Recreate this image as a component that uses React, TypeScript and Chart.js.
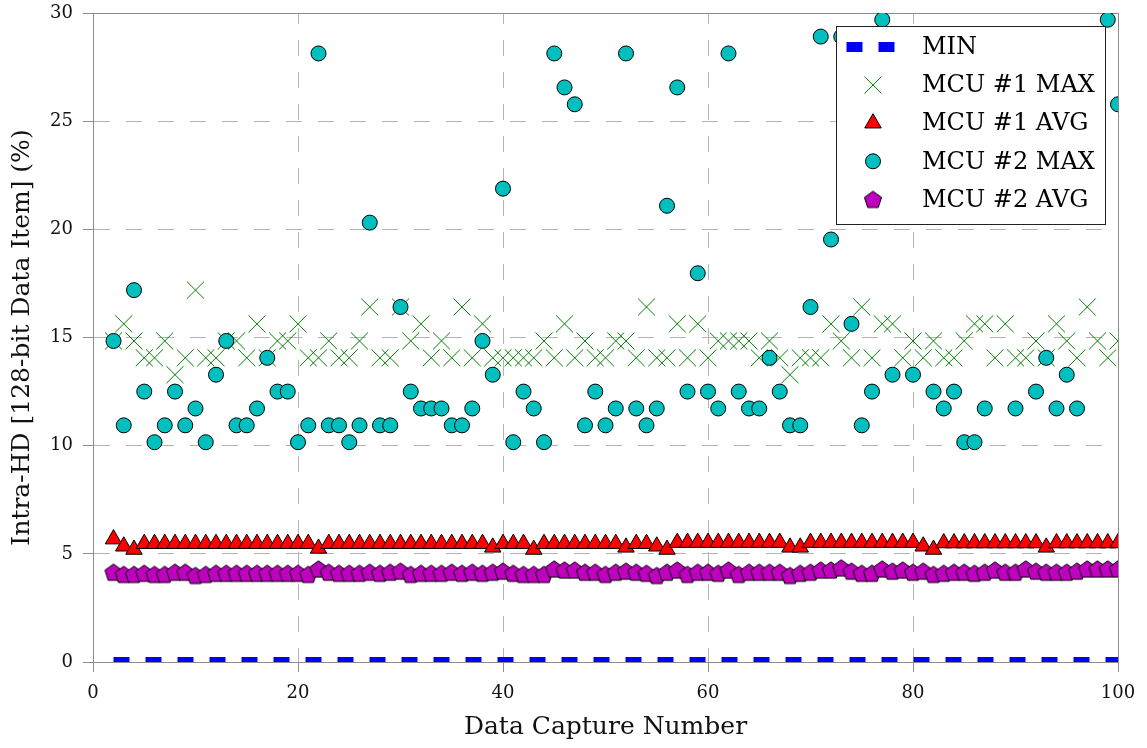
import React, { useEffect, useRef } from 'react';
import { Chart, registerables } from 'chart.js';

Chart.register(...registerables);

// ---------- data ----------
const CAPTURE_NUMBERS = [
  2, 3, 4, 5, 6, 7, 8, 9, 10, 11, 12, 13, 14, 15, 16, 17, 18, 19, 20, 21,
  22, 23, 24, 25, 26, 27, 28, 29, 30, 31, 32, 33, 34, 35, 36, 37, 38, 39, 40, 41,
  42, 43, 44, 45, 46, 47, 48, 49, 50, 51, 52, 53, 54, 55, 56, 57, 58, 59, 60, 61,
  62, 63, 64, 65, 66, 67, 68, 69, 70, 71, 72, 73, 74, 75, 76, 77, 78, 79, 80, 81,
  82, 83, 84, 85, 86, 87, 88, 89, 90, 91, 92, 93, 94, 95, 96, 97, 98, 99, 100,
];

const MIN_X = [2, 100];
const MIN_VALUES = [0, 0];

const MCU1_MAX = [
  14.84, 15.63, 14.84, 14.06, 14.06, 14.84, 13.28, 14.06, 17.19, 14.06,
  14.06, 14.84, 14.84, 14.06, 15.63, 14.06, 14.84, 14.84, 15.63, 14.06,
  14.06, 14.84, 14.06, 14.06, 14.84, 16.41, 14.06, 14.06, 16.41, 14.84,
  15.63, 14.06, 14.84, 14.06, 16.41, 14.06, 15.63, 14.06, 14.06, 14.06,
  14.06, 14.06, 14.84, 14.06, 15.63, 14.06, 14.84, 14.06, 14.06, 14.84,
  14.84, 14.06, 16.41, 14.06, 14.06, 15.63, 14.06, 15.63, 14.06, 14.84,
  14.84, 14.84, 14.84, 14.06, 14.84, 14.06, 13.28, 14.06, 14.06, 14.06,
  15.63, 14.84, 14.06, 16.41, 14.06, 15.63, 15.63, 14.06, 14.84, 14.06,
  14.84, 14.06, 14.06, 14.84, 15.63, 15.63, 14.06, 15.63, 14.06, 14.06,
  14.84, 14.06, 15.63, 14.84, 14.06, 16.41, 14.84, 14.06, 14.84,
];

const MCU1_AVG = [
  5.68, 5.35, 5.2, 5.47, 5.47, 5.47, 5.47, 5.47, 5.47, 5.47,
  5.47, 5.47, 5.47, 5.47, 5.47, 5.47, 5.47, 5.47, 5.47, 5.47,
  5.25, 5.47, 5.47, 5.47, 5.47, 5.47, 5.47, 5.47, 5.47, 5.47,
  5.47, 5.47, 5.47, 5.47, 5.47, 5.47, 5.47, 5.3, 5.47, 5.47,
  5.47, 5.2, 5.47, 5.47, 5.47, 5.47, 5.47, 5.47, 5.47, 5.47,
  5.3, 5.47, 5.47, 5.35, 5.2, 5.52, 5.52, 5.52, 5.52, 5.52,
  5.52, 5.52, 5.52, 5.52, 5.52, 5.52, 5.3, 5.3, 5.52, 5.52,
  5.52, 5.52, 5.52, 5.52, 5.52, 5.52, 5.52, 5.52, 5.52, 5.35,
  5.2, 5.5, 5.5, 5.5, 5.5, 5.5, 5.5, 5.5, 5.5, 5.5,
  5.5, 5.3, 5.5, 5.5, 5.5, 5.5, 5.5, 5.5, 5.5,
];

const MCU2_MAX = [
  14.84, 10.94, 17.19, 12.5, 10.16, 10.94, 12.5, 10.94, 11.72, 10.16,
  13.28, 14.84, 10.94, 10.94, 11.72, 14.06, 12.5, 12.5, 10.16, 10.94,
  28.13, 10.94, 10.94, 10.16, 10.94, 20.31, 10.94, 10.94, 16.41, 12.5,
  11.72, 11.72, 11.72, 10.94, 10.94, 11.72, 14.84, 13.28, 21.88, 10.16,
  12.5, 11.72, 10.16, 28.13, 26.56, 25.78, 10.94, 12.5, 10.94, 11.72,
  28.13, 11.72, 10.94, 11.72, 21.09, 26.56, 12.5, 17.97, 12.5, 11.72,
  28.13, 12.5, 11.72, 11.72, 14.06, 12.5, 10.94, 10.94, 16.41, 28.91,
  19.53, 28.91, 15.63, 10.94, 12.5, 29.69, 13.28, 25.0, 13.28, 22.66,
  12.5, 11.72, 12.5, 10.16, 10.16, 11.72, 27.34, 23.44, 11.72, 21.88,
  12.5, 14.06, 11.72, 13.28, 11.72, 24.22, 26.56, 29.69, 25.78,
];

const MCU2_AVG = [
  4.15, 4.05, 4.05, 4.1, 4.05, 4.05, 4.15, 4.15, 4.0, 4.05,
  4.1, 4.1, 4.1, 4.1, 4.1, 4.1, 4.1, 4.1, 4.1, 4.05,
  4.3, 4.15, 4.1, 4.1, 4.1, 4.15, 4.1, 4.15, 4.2, 4.05,
  4.1, 4.1, 4.1, 4.15, 4.1, 4.15, 4.1, 4.15, 4.2, 4.1,
  4.05, 4.05, 4.05, 4.3, 4.25, 4.25, 4.15, 4.15, 4.05, 4.15,
  4.2, 4.15, 4.1, 4.0, 4.15, 4.25, 4.05, 4.15, 4.15, 4.1,
  4.25, 4.05, 4.15, 4.15, 4.15, 4.15, 4.0, 4.1, 4.15, 4.25,
  4.25, 4.35, 4.2, 4.1, 4.1, 4.3, 4.2, 4.25, 4.15, 4.2,
  4.05, 4.1, 4.15, 4.15, 4.1, 4.15, 4.25, 4.15, 4.15, 4.3,
  4.2, 4.15, 4.15, 4.15, 4.2, 4.3, 4.3, 4.3, 4.3,
];

const SERIES_LABELS = ['MIN', 'MCU #1 MAX', 'MCU #1 AVG', 'MCU #2 MAX', 'MCU #2 AVG'];
const X_TITLE = 'Data Capture Number';
const Y_TITLE = 'Intra-HD [128-bit Data Item] (%)';
const X_RANGE = [0, 100];
const Y_RANGE = [0, 30];
const X_STEP = 20;
const Y_STEP = 5;

// ---------- styles ----------
const FONT = '"DejaVu Serif", "Liberation Serif", serif';
const GRID_COLOR = '#b4b4b4';
const AXIS_COLOR = '#8c8c8c';

function makePentagon(fill: string, stroke: string, R: number): HTMLCanvasElement {
  const size = Math.ceil(2 * R + 4);
  const c = document.createElement('canvas');
  c.width = size;
  c.height = size;
  const g = c.getContext('2d')!;
  const cx = size / 2;
  const cy = size / 2 + 0.8;
  g.beginPath();
  for (let i = 0; i < 5; i++) {
    const a = -Math.PI / 2 + (i * 2 * Math.PI) / 5;
    const px = cx + R * Math.cos(a);
    const py = cy + R * Math.sin(a);
    if (i === 0) g.moveTo(px, py);
    else g.lineTo(px, py);
  }
  g.closePath();
  g.fillStyle = fill;
  g.fill();
  g.lineWidth = 1;
  g.strokeStyle = stroke;
  g.stroke();
  return c;
}

function pts(xs: number[], ys: number[]) {
  return ys.map((y, i) => ({ x: xs[i], y }));
}

const boxLegend = {
  id: 'boxLegend',
  afterDraw(chart: any) {
    const { ctx, chartArea } = chart;
    const w = 269;
    const h = 198;
    const left = Math.round(chartArea.right - 13 - w);
    const top = Math.round(chartArea.top + 13);
    ctx.save();
    ctx.fillStyle = '#ffffff';
    ctx.fillRect(left, top, w, h);
    ctx.strokeStyle = '#222222';
    ctx.lineWidth = 1;
    ctx.strokeRect(left + 0.5, top + 0.5, w, h);
    const mx = left + 37;
    chart.data.datasets.forEach((ds: any, i: number) => {
      const cy = top + 21 + i * 38.1;
      ctx.save();
      const kind = ds.legendKind;
      if (kind === 'line') {
        ctx.strokeStyle = ds.borderColor;
        ctx.lineWidth = 10;
        ctx.setLineDash([16, 16]);
        ctx.beginPath();
        ctx.moveTo(left + 10.5, cy);
        ctx.lineTo(left + 58.5, cy);
        ctx.stroke();
      } else if (kind === 'crossRot') {
        const o = 12 * Math.SQRT1_2;
        ctx.strokeStyle = ds.borderColor;
        ctx.lineWidth = 1;
        ctx.beginPath();
        ctx.moveTo(mx - o, cy - o);
        ctx.lineTo(mx + o, cy + o);
        ctx.moveTo(mx - o, cy + o);
        ctx.lineTo(mx + o, cy - o);
        ctx.stroke();
      } else if (kind === 'triangle') {
        const r = 9.5;
        ctx.beginPath();
        for (let k = 0; k < 3; k++) {
          const a = -Math.PI / 2 + (k * 2 * Math.PI) / 3;
          const px = mx + r * Math.cos(a);
          const py = cy + r * Math.sin(a);
          if (k === 0) ctx.moveTo(px, py);
          else ctx.lineTo(px, py);
        }
        ctx.closePath();
        ctx.fillStyle = ds.backgroundColor;
        ctx.fill();
        ctx.strokeStyle = ds.borderColor;
        ctx.stroke();
      } else if (kind === 'circle') {
        ctx.beginPath();
        ctx.arc(mx, cy, 7.5, 0, Math.PI * 2);
        ctx.fillStyle = ds.backgroundColor;
        ctx.fill();
        ctx.strokeStyle = ds.borderColor;
        ctx.lineWidth = 1;
        ctx.stroke();
      } else if (kind === 'image') {
        const img = ds.pointStyle as HTMLCanvasElement;
        ctx.drawImage(img, mx - img.width / 2, cy - img.height / 2);
      }
      ctx.restore();
      ctx.fillStyle = '#000000';
      ctx.font = `24px ${FONT}`;
      ctx.textBaseline = 'middle';
      ctx.textAlign = 'left';
      ctx.fillText(ds.label, left + 86, cy + 1);
    });
    ctx.restore();
  },
};

const frame = {
  id: 'frame',
  beforeDatasetsDraw(chart: any) {
    const { ctx, chartArea } = chart;
    ctx.save();
    ctx.strokeStyle = AXIS_COLOR;
    ctx.lineWidth = 1;
    const l = Math.round(chartArea.left) + 0.5;
    const t = Math.round(chartArea.top) + 0.5;
    const r = Math.round(chartArea.right) + 0.5;
    const b = Math.round(chartArea.bottom) + 0.5;
    ctx.strokeRect(l, t, r - l, b - t);
    ctx.restore();
  },
};

export default function App() {
  const ref = useRef<HTMLCanvasElement | null>(null);

  useEffect(() => {
    document.body.style.margin = '0';
    const canvas = ref.current;
    if (!canvas) return;
    const pentagon = makePentagon('#bf00bf', '#000000', 9);

    const chart = new Chart(canvas, {
      type: 'scatter',
      data: {
        datasets: [
          {
            type: 'line',
            label: SERIES_LABELS[0],
            data: pts(MIN_X, MIN_VALUES),
            borderColor: '#0000ff',
            backgroundColor: '#0000ff',
            borderWidth: 10,
            borderDash: [16, 16],
            borderCapStyle: 'butt',
            pointRadius: 0,
            showLine: true,
            fill: false,
            clip: 0,
            order: 5,
            legendKind: 'line',
          } as any,
          {
            label: SERIES_LABELS[1],
            data: pts(CAPTURE_NUMBERS, MCU1_MAX),
            pointStyle: 'crossRot',
            pointRadius: 12,
            pointBorderWidth: 1,
            borderColor: '#008000',
            backgroundColor: '#008000',
            clip: 0,
            order: 4,
            legendKind: 'crossRot',
          } as any,
          {
            label: SERIES_LABELS[2],
            data: pts(CAPTURE_NUMBERS, MCU1_AVG),
            pointStyle: 'triangle',
            pointRadius: 9.5,
            pointBorderWidth: 1,
            borderColor: '#000000',
            backgroundColor: '#ff0000',
            clip: 0,
            order: 3,
            legendKind: 'triangle',
          } as any,
          {
            label: SERIES_LABELS[3],
            data: pts(CAPTURE_NUMBERS, MCU2_MAX),
            pointStyle: 'circle',
            pointRadius: 7.5,
            pointBorderWidth: 1,
            borderColor: '#000000',
            backgroundColor: '#00bfbf',
            clip: 0,
            order: 2,
            legendKind: 'circle',
          } as any,
          {
            label: SERIES_LABELS[4],
            data: pts(CAPTURE_NUMBERS, MCU2_AVG),
            pointStyle: pentagon,
            pointRadius: 9,
            borderColor: '#000000',
            backgroundColor: '#bf00bf',
            clip: 0,
            order: 1,
            legendKind: 'image',
          } as any,
        ],
      },
      options: {
        animation: false,
        responsive: false,
        devicePixelRatio: 1,
        layout: { padding: { left: 0, top: 12, right: 29, bottom: 0 } },
        plugins: {
          legend: { display: false },
          tooltip: { enabled: false },
        },
        scales: {
          x: {
            type: 'linear',
            min: X_RANGE[0],
            max: X_RANGE[1],
            afterFit: (s: any) => {
              s.height = 86;
              s.paddingLeft = 0;
              s.paddingRight = 0;
            },
            ticks: {
              stepSize: X_STEP,
              color: '#111111',
              padding: 11,
              font: { family: FONT, size: 18 },
              maxRotation: 0,
            },
            grid: {
              color: GRID_COLOR,
              lineWidth: 1,
              tickLength: 10,
              tickColor: AXIS_COLOR,
              tickBorderDash: [],
            },
            border: { display: true, color: AXIS_COLOR, dash: [16, 16], dashOffset: 5 },
            title: {
              display: true,
              text: X_TITLE,
              color: '#111111',
              font: { family: FONT, size: 25 },
              padding: { top: 0, bottom: 6 },
            },
          },
          y: {
            type: 'linear',
            min: Y_RANGE[0],
            max: Y_RANGE[1],
            afterFit: (s: any) => {
              s.width = 93;
              s.paddingTop = 0;
              s.paddingBottom = 0;
            },
            ticks: {
              stepSize: Y_STEP,
              color: '#111111',
              padding: 10,
              font: { family: FONT, size: 18 },
            },
            grid: {
              color: GRID_COLOR,
              lineWidth: 1,
              tickLength: 10,
              tickColor: AXIS_COLOR,
              tickBorderDash: [],
            },
            border: { display: true, color: AXIS_COLOR, dash: [16, 16] },
            title: {
              display: true,
              text: Y_TITLE,
              color: '#111111',
              font: { family: FONT, size: 25 },
              padding: { top: 7, bottom: 0 },
            },
          },
        },
      } as any,
      plugins: [frame, boxLegend],
    });

    return () => {
      chart.destroy();
    };
  }, []);

  return (
    <div style={{ position: 'fixed', left: 0, top: 0, width: 1147, height: 748, background: '#ffffff' }}>
      <canvas ref={ref} width={1147} height={748} style={{ display: 'block' }} />
    </div>
  );
}
